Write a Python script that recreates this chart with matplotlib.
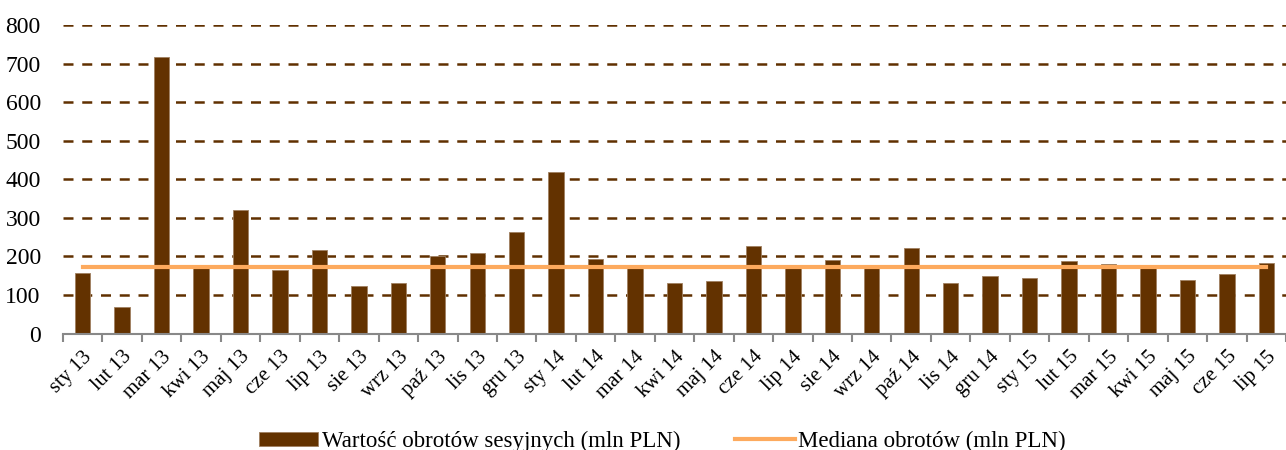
import numpy as np
import matplotlib.pyplot as plt

months = ['sty 13', 'lut 13', 'mar 13', 'kwi 13', 'maj 13', 'cze 13', 'lip 13',
          'sie 13', 'wrz 13', 'paź 13', 'lis 13', 'gru 13', 'sty 14', 'lut 14',
          'mar 14', 'kwi 14', 'maj 14', 'cze 14', 'lip 14', 'sie 14', 'wrz 14',
          'paź 14', 'lis 14', 'gru 14', 'sty 15', 'lut 15', 'mar 15', 'kwi 15',
          'maj 15', 'cze 15', 'lip 15']
turnover = [157, 68, 717, 170, 319, 165, 216, 123, 132, 200, 210, 262, 418, 193,
            176, 130, 135, 227, 169, 190, 170, 222, 130, 148, 145, 188, 179, 170,
            138, 153, 182]
median = [173] * len(months)

bar_color = '#633200'
line_color = '#FDAA5E'
grid_color = '#603000'

plt.rcParams['font.family'] = ['Liberation Serif', 'DejaVu Serif']

fig = plt.figure(figsize=(12.86, 4.5), dpi=100)
ax = fig.add_axes([63 / 1286, 1 - 333.5 / 450, (1286 - 63) / 1286, 308.5 / 450])

x = np.arange(len(months))
bars = ax.bar(x, turnover, width=0.39, color=bar_color, edgecolor='#a08060',
              linewidth=0.6, zorder=2)
line, = ax.plot(x, median, color=line_color, lw=3, zorder=3)

ax.set_xlim(-0.5, len(months) - 0.5)
ax.set_ylim(0, 800)
ax.set_yticks(range(0, 801, 100))
ax.yaxis.grid(True, ls=(0, (4, 3.5)), color=grid_color, lw=1.8, zorder=1)
ax.set_axisbelow(True)

for s in ['top', 'right', 'left']:
    ax.spines[s].set_visible(False)
ax.spines['bottom'].set_color('#888888')
ax.spines['bottom'].set_linewidth(1.5)

ax.set_xticks(x)
ax.set_xticklabels(months, rotation=45, ha='right', rotation_mode='anchor')
ax.set_xticks(np.arange(-0.5, len(months)), minor=True)
ax.tick_params(axis='x', which='major', length=0, labelsize=15, pad=10)
ax.tick_params(axis='x', which='minor', length=6, width=1.5, color='#888888',
               direction='out')
ax.tick_params(axis='y', length=0, labelsize=17, pad=16)

fig.legend([bars, line],
           ['Wartość obrotów sesyjnych (mln PLN)', 'Mediana obrotów (mln PLN)'],
           loc='lower center', bbox_to_anchor=(0.515, -0.05), ncol=2,
           frameon=False, fontsize=16.5, handlelength=2.6, columnspacing=2.4,
           handletextpad=0.15, handleheight=0.6)

plt.savefig('out.png', dpi=100)
